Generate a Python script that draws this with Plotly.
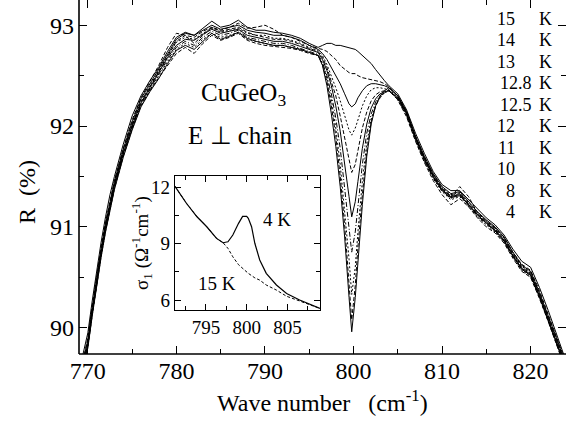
import plotly.graph_objects as go

# ---------------- data ----------------
wavenumber = [769.3, 770, 770.5, 771, 771.5, 772, 772.5, 773, 774, 775, 776, 777, 778, 779, 780,
              781, 782, 783, 784, 785, 786, 787, 788, 789, 790, 791, 792, 793, 794, 795,
              796, 796.5, 797, 797.5, 798, 798.5, 799, 799.5, 799.8, 800.2, 800.5, 801, 801.5,
              802, 802.5, 803, 803.5, 804,
              805, 806, 807, 808, 809, 810, 811, 812, 813, 814, 815, 816, 817, 818, 819, 820,
              821, 822, 823, 823.8]

temps = ["15", "14", "13", "12.8", "12.5", "12", "11", "10", "8", "4"]

R_15K = [89.68, 89.95, 90.27, 90.57, 90.85, 91.1, 91.32, 91.5, 91.82, 92.1, 92.3, 92.45, 92.58, 92.74, 92.88,
         92.93, 92.9, 92.97, 93.04, 92.98, 93.0, 93.05, 92.98, 92.95, 92.95, 92.93, 92.92, 92.9, 92.87, 92.82,
         92.78, 92.8, 92.82, 92.82, 92.8, 92.8, 92.79, 92.78, 92.77, 92.76, 92.74, 92.7, 92.66, 92.62, 92.56, 92.5, 92.45, 92.4,
         92.32, 92.16, 91.93, 91.73, 91.55, 91.42, 91.36, 91.36, 91.27, 91.17, 91.09, 91.02, 90.92, 90.78, 90.66, 90.6, 90.4, 90.17, 89.93, 89.72]
R_14K = [89.62, 89.9, 90.22, 90.52, 90.8, 91.05, 91.27, 91.46, 91.78, 92.06, 92.28, 92.44, 92.6, 92.78, 92.92,
         92.9, 92.82, 92.9, 92.98, 92.95, 92.98, 93.02, 92.97, 92.98, 93.0, 92.96, 92.9, 92.88, 92.84, 92.8,
         92.77, 92.76, 92.74, 92.7, 92.66, 92.6, 92.56, 92.53, 92.52, 92.52, 92.5, 92.48, 92.47, 92.46, 92.45, 92.44, 92.42, 92.39,
         92.3, 92.15, 91.9, 91.7, 91.52, 91.38, 91.3, 91.4, 91.3, 91.14, 91.06, 90.99, 90.9, 90.75, 90.63, 90.57, 90.37, 90.13, 89.9, 89.7]
R_13K = [89.6, 89.88, 90.2, 90.5, 90.78, 91.03, 91.25, 91.45, 91.77, 92.04, 92.27, 92.42, 92.56, 92.72, 92.86,
         92.92, 92.9, 92.95, 93.0, 92.96, 92.98, 93.0, 92.95, 92.93, 92.92, 92.9, 92.9, 92.88, 92.85, 92.8,
         92.76, 92.72, 92.66, 92.58, 92.5, 92.42, 92.32, 92.22, 92.19, 92.22, 92.28, 92.35, 92.4, 92.42, 92.42, 92.41, 92.4, 92.38,
         92.3, 92.14, 91.9, 91.7, 91.53, 91.4, 91.33, 91.35, 91.25, 91.15, 91.07, 91.0, 90.9, 90.75, 90.62, 90.56, 90.35, 90.12, 89.88, 89.68]
R_12_8K = [89.58, 89.86, 90.18, 90.48, 90.76, 91.01, 91.23, 91.43, 91.75, 92.02, 92.25, 92.4, 92.55, 92.7, 92.83,
           92.88, 92.86, 92.92, 92.97, 92.93, 92.95, 92.97, 92.92, 92.9, 92.9, 92.87, 92.87, 92.85, 92.82, 92.78,
           92.75, 92.7, 92.61, 92.5, 92.38, 92.25, 92.1, 91.96, 91.91, 91.98, 92.06, 92.2, 92.3, 92.36, 92.38, 92.38, 92.37, 92.36,
           92.29, 92.13, 91.89, 91.69, 91.52, 91.39, 91.32, 91.34, 91.24, 91.14, 91.06, 90.99, 90.89, 90.74, 90.61, 90.55, 90.34, 90.11, 89.87, 89.67]
R_12_5K = [89.57, 89.85, 90.17, 90.47, 90.75, 91.0, 91.22, 91.42, 91.74, 92.01, 92.24, 92.39, 92.54, 92.7, 92.84,
           92.9, 92.88, 92.94, 92.98, 92.94, 92.96, 92.98, 92.93, 92.9, 92.88, 92.86, 92.86, 92.84, 92.81, 92.77,
           92.74, 92.68, 92.58, 92.45, 92.3, 92.1, 91.88, 91.64, 91.54, 91.62, 91.76, 91.98, 92.14, 92.25, 92.31, 92.34, 92.35, 92.35,
           92.28, 92.12, 91.88, 91.68, 91.51, 91.38, 91.31, 91.33, 91.23, 91.13, 91.05, 90.98, 90.88, 90.73, 90.6, 90.54, 90.33, 90.1, 89.86, 89.66]
R_12K = [89.56, 89.84, 90.16, 90.46, 90.74, 90.99, 91.21, 91.41, 91.73, 92.0, 92.23, 92.38, 92.53, 92.68, 92.8,
         92.86, 92.85, 92.91, 92.96, 92.92, 92.94, 92.96, 92.9, 92.88, 92.86, 92.84, 92.84, 92.82, 92.79, 92.76,
         92.73, 92.66, 92.55, 92.4, 92.2, 91.95, 91.65, 91.3, 91.1, 91.25, 91.45, 91.78, 92.02, 92.18, 92.27, 92.32, 92.34, 92.35,
         92.28, 92.12, 91.88, 91.67, 91.5, 91.37, 91.3, 91.32, 91.22, 91.12, 91.04, 90.97, 90.87, 90.72, 90.59, 90.53, 90.32, 90.09, 89.85, 89.65]
R_11K = [89.55, 89.83, 90.15, 90.45, 90.73, 90.98, 91.2, 91.4, 91.72, 91.99, 92.22, 92.37, 92.52, 92.66, 92.78,
         92.84, 92.8, 92.88, 92.94, 92.9, 92.92, 92.95, 92.88, 92.86, 92.84, 92.82, 92.82, 92.8, 92.77, 92.74,
         92.71, 92.63, 92.5, 92.32, 92.08, 91.78, 91.4, 91.0, 90.75, 90.95, 91.2, 91.62, 91.93, 92.12, 92.24, 92.3, 92.33, 92.35,
         92.27, 92.11, 91.87, 91.66, 91.49, 91.36, 91.28, 91.34, 91.21, 91.11, 91.03, 90.96, 90.86, 90.71, 90.58, 90.52, 90.31, 90.08, 89.84, 89.64]
R_10K = [89.54, 89.82, 90.14, 90.44, 90.72, 90.97, 91.19, 91.39, 91.71, 91.98, 92.21, 92.36, 92.5, 92.64, 92.76,
         92.82, 92.78, 92.86, 92.92, 92.88, 92.9, 92.93, 92.86, 92.84, 92.82, 92.8, 92.8, 92.78, 92.76, 92.73,
         92.7, 92.62, 92.47, 92.26, 91.98, 91.62, 91.18, 90.68, 90.33, 90.6, 90.95, 91.45, 91.83, 92.07, 92.21, 92.29, 92.33, 92.35,
         92.26, 92.1, 91.86, 91.65, 91.48, 91.35, 91.27, 91.3, 91.2, 91.1, 91.02, 90.95, 90.85, 90.7, 90.57, 90.51, 90.3, 90.07, 89.83, 89.63]
R_8K = [89.53, 89.81, 90.13, 90.43, 90.71, 90.96, 91.18, 91.38, 91.7, 91.97, 92.2, 92.35, 92.48, 92.6, 92.72,
        92.78, 92.72, 92.82, 92.9, 92.85, 92.88, 92.92, 92.85, 92.82, 92.8, 92.79, 92.78, 92.77, 92.75, 92.72,
        92.7, 92.61, 92.44, 92.2, 91.9, 91.5, 91.02, 90.45, 90.08, 90.42, 90.8, 91.32, 91.75, 92.04, 92.2, 92.28, 92.33, 92.36,
        92.26, 92.09, 91.85, 91.64, 91.46, 91.32, 91.22, 91.28, 91.2, 91.09, 91.0, 90.94, 90.84, 90.69, 90.56, 90.5, 90.29, 90.06, 89.82, 89.62]
R_4K = [89.52, 89.8, 90.12, 90.42, 90.7, 90.95, 91.17, 91.37, 91.69, 91.96, 92.19, 92.34, 92.47, 92.62, 92.75,
        92.8, 92.76, 92.84, 92.92, 92.86, 92.89, 92.93, 92.87, 92.84, 92.82, 92.8, 92.8, 92.78, 92.76, 92.73,
        92.7, 92.6, 92.4, 92.12, 91.8, 91.4, 90.9, 90.3, 89.96, 90.3, 90.68, 91.22, 91.7, 92.02, 92.2, 92.3, 92.35, 92.38,
        92.3, 92.13, 91.89, 91.68, 91.5, 91.36, 91.29, 91.31, 91.22, 91.12, 91.04, 90.96, 90.86, 90.71, 90.58, 90.52, 90.31, 90.08, 89.84, 89.64]

reflectivity = [R_15K, R_14K, R_13K, R_12_8K, R_12_5K, R_12K, R_11K, R_10K, R_8K, R_4K]

# inset: optical conductivity
inset_wn = [791.2, 792.6, 793.9, 795.1, 796.3, 797.1, 797.7, 798.3, 799.0, 799.5, 800.0, 800.2,
            800.6, 801.0, 801.6, 802.4, 803.65, 804.9, 806.5, 808.1, 809.0]
sigma_4K = [12.05, 11.15, 10.43, 9.9, 9.28, 9.05, 9.1, 9.46, 10.08, 10.45, 10.45, 10.35,
            9.9, 9.02, 8.13, 7.42, 6.8, 6.35, 6.0, 5.73, 5.55]
sigma_15K = [12.05, 11.15, 10.43, 9.9, 9.28, 9.05, 8.75, 8.3, 7.88, 7.68, 7.5, 7.42,
             7.3, 7.18, 7.06, 6.8, 6.53, 6.2, 5.95, 5.72, 5.55]

# ---------------- figure ----------------
W, H = 566, 423
L, R_, T, B = 79, 0, 0, 69
PW, PH = W - L - R_, H - T - B
FONT = "Liberation Serif"


def px(x):
    return (x - L) / PW


def py(y):
    return (H - B - y) / PH


dashes = ["solid", "4px,2px", "solid", "2px,2px", "4px,2px", "solid", "5px,2px,1px,2px", "2px,2px", "4px,2px", "solid"]

fig = go.Figure()
for t, r, d in zip(temps, reflectivity, dashes):
    fig.add_trace(go.Scatter(x=wavenumber, y=r, mode="lines", name=t + " K",
                             line=dict(color="black", width=1, dash=d),
                             showlegend=False, xaxis="x", yaxis="y"))

fig.add_trace(go.Scatter(x=inset_wn, y=sigma_15K, mode="lines", line=dict(color="black", width=1, dash="3px,2px"),
                         showlegend=False, xaxis="x2", yaxis="y2"))
fig.add_trace(go.Scatter(x=inset_wn, y=sigma_4K, mode="lines", line=dict(color="black", width=1.2),
                         showlegend=False, xaxis="x2", yaxis="y2"))

axcommon = dict(showgrid=False, zeroline=False, ticks="inside", tickcolor="black", tickwidth=1,
                color="black", mirror="ticks")

fig.update_layout(
    width=W, height=H, margin=dict(l=L, r=R_, t=T, b=B),
    paper_bgcolor="white", plot_bgcolor="white",
    font=dict(family=FONT, color="black"),
    xaxis=dict(range=[769, 824], dtick=10, tick0=770, ticklen=8, showline=False,
               minor=dict(dtick=5, ticklen=5, ticks="inside", tickcolor="black"),
               tickfont=dict(family=FONT, size=24), **axcommon),
    yaxis=dict(range=[89.74, 93.25], dtick=1, tick0=90, ticklen=8, showline=False,
               minor=dict(dtick=0.5, ticklen=5, ticks="inside", tickcolor="black"),
               tickfont=dict(family=FONT, size=24), ticklabelstandoff=4, **axcommon),
    xaxis2=dict(domain=[px(175), px(320)], anchor="y2", range=[791.2, 809], dtick=5, tick0=795,
                ticklen=6, showline=True, linecolor="black", linewidth=1.2,
                minor=dict(dtick=2.5, ticklen=4, ticks="inside", tickcolor="black"),
                tickfont=dict(family=FONT, size=19), **{**axcommon, "mirror": "allticks"}),
    yaxis2=dict(domain=[py(310), py(176)], anchor="x2", range=[5.47, 12.6], dtick=3, tick0=6,
                ticklen=6, showline=True, linecolor="black", linewidth=1.2,
                minor=dict(dtick=1.5, ticklen=4, ticks="inside", tickcolor="black"),
                tickfont=dict(family=FONT, size=19), **{**axcommon, "mirror": "allticks"}),
)

# axis lines of main frame (left and bottom; top/right are cut by the image border)
fig.add_shape(type="line", xref="paper", yref="paper", x0=0, x1=0, y0=0, y1=1,
              line=dict(color="black", width=1.6))
fig.add_shape(type="line", xref="paper", yref="paper", x0=0, x1=1, y0=0, y1=0,
              line=dict(color="black", width=1.6))


def label(text, x, y, size, xanchor="center", xref="paper", yref="paper", angle=0):
    return dict(text=text, x=x, y=y, xref=xref, yref=yref, xanchor=xanchor, yanchor="middle",
                showarrow=False, textangle=angle, font=dict(family=FONT, size=size, color="black"))


ann = []
# axis titles
ann.append(label("Wave number\u00a0\u00a0\u00a0(cm<sup>-1</sup>)", px(322), py(401), 24))
ann.append(label("R\u00a0\u00a0(%)", px(27), py(192), 24, angle=-90))
ann.append(label("σ<sub>1</sub>\u00a0(Ω<sup>-1</sup>cm<sup>-1</sup>)", px(142), py(243), 19, angle=-90))
# sample text
ann.append(label("CuGeO<sub>3</sub>", px(243), py(94), 25))
ann.append(label("E \u22a5 chain", px(240), py(135), 25))
# inset labels
ann.append(label("4 K", 803.7, 10.26, 19, xref="x2", yref="y2"))
ann.append(label("15 K", 796.4, 6.9, 19, xref="x2", yref="y2"))
# temperature list
for i, t in enumerate(temps):
    yy = 18.5 + i * 21.55
    if "." in t:
        ann.append(label(t, px(498), py(yy), 18, xanchor="left"))
    else:
        ann.append(label(t, px(517), py(yy), 18, xanchor="right"))
    ann.append(label("K", px(537), py(yy), 18, xanchor="left"))

fig.update_layout(annotations=ann)
fig.write_html("out.html")
